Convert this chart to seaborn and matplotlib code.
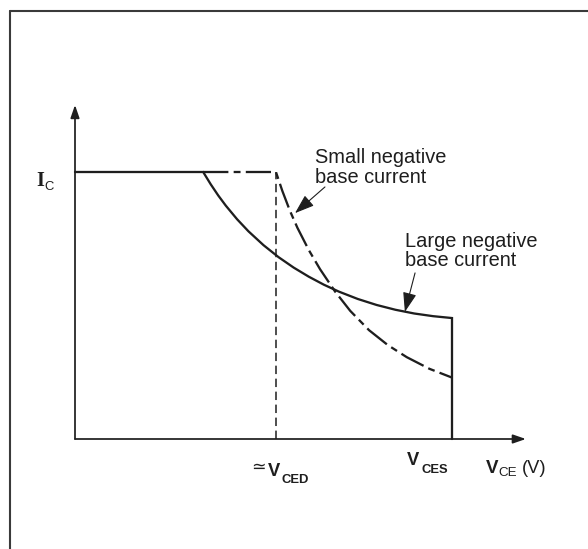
import matplotlib
matplotlib.use("Agg")
import matplotlib.pyplot as plt
import seaborn as sns
from matplotlib.lines import Line2D

sns.set_theme(style="white")
plt.rcParams["font.family"] = ["Liberation Sans", "DejaVu Sans"]

INK = "#1e1e1e"

# V_CE normalised to V_CES, I_C normalised to the current plateau
v_ced = 0.533
v_ces = 1.0
i_max = 1.0
v_axis_end = 1.196
i_axis_end = 1.251

# Safe operating boundary with a large negative base current
large_v = [0.0, 0.34, 0.36, 0.38, 0.40, 0.43, 0.46, 0.50, 0.54, 0.58, 0.62, 0.66, 0.70,
           0.75, 0.80, 0.85, 0.90, 0.95, 1.0, 1.0]
large_i = [1.0, 1.0, 0.954, 0.912, 0.874, 0.823, 0.778, 0.726, 0.681, 0.642, 0.608, 0.578, 0.552,
           0.5245, 0.502, 0.484, 0.470, 0.460, 0.453, 0.0]

# Safe operating boundary with a small negative base current
small_v = [0.34, 0.533, 0.55, 0.57, 0.59, 0.62, 0.65, 0.69, 0.73, 0.78, 0.83, 0.88, 0.94, 1.0]
small_i = [1.0, 1.0, 0.929, 0.855, 0.791, 0.708, 0.636, 0.552, 0.480, 0.4075, 0.3515, 0.3065,
           0.263, 0.230]

small_label = ["Small negative", "base current"]
large_label = ["Large negative", "base current"]

fig = plt.figure(figsize=(5.88, 5.49), dpi=100)
ax = fig.add_axes([0, 0, 1, 1])
ax.set_xlim(-75 / 377, 513 / 377)
ax.set_ylim(-110 / 267, 439 / 267)
ax.axis("off")

# page frame (left and top edges)
fig.add_artist(Line2D([9.5 / 588, 9.5 / 588], [0, 1 - 10.5 / 549], color="#3a3a3a", lw=1.5))
fig.add_artist(Line2D([9.5 / 588, 1], [1 - 10.5 / 549, 1 - 10.5 / 549], color="#3a3a3a", lw=1.5))

# axes with arrow heads
axis_arrow = dict(arrowstyle="-|>,head_length=1.1,head_width=0.38", lw=1.25, color=INK,
                  shrinkA=0, shrinkB=0, mutation_scale=7)
ax.annotate("", xy=(0, i_axis_end), xytext=(0, 0), arrowprops=axis_arrow)
ax.annotate("", xy=(v_axis_end, 0), xytext=(0, 0), arrowprops=axis_arrow)

# V_CED marker
ax.plot([v_ced, v_ced], [0, i_max], color=INK, lw=1.1, linestyle=(0, (5.5, 3)))

# boundaries
sns.lineplot(x=small_v, y=small_i, sort=False, estimator=None, ax=ax, color=INK,
             lw=1.65, linestyle=(0, (11, 2.3, 3, 2.3)))
sns.lineplot(x=large_v, y=large_i, sort=False, estimator=None, ax=ax, color=INK,
             lw=1.65, solid_joinstyle="miter")

# curve call-outs
pointer = dict(arrowstyle="-|>,head_length=1.2,head_width=0.42", lw=0.8, color=INK,
               shrinkA=0, shrinkB=0, mutation_scale=10)
ax.annotate("", xy=(0.5836, 0.846), xytext=(0.663, 0.944), arrowprops=pointer)
ax.annotate("", xy=(0.875, 0.476), xytext=(0.902, 0.622), arrowprops=pointer)

def px_text(anchor, dx, dy, s, size, **kw):
    ax.annotate(s, xy=anchor, xycoords="data", xytext=(dx, -dy), textcoords="offset pixels",
                ha="left", va="baseline", fontsize=size, color=INK, **kw)

for k, line in enumerate(small_label):
    px_text((v_ced, i_max), 39, -9 + 20 * k, line, 14.4)
for k, line in enumerate(large_label):
    px_text((v_ces, i_max), -47, 75 + 19 * k, line, 14.4)

# axis labels
px_text((0, i_max), -39, 14, "I", 14.5, family="Liberation Serif", fontweight="bold")
px_text((0, i_max), -31, 18, "C", 9.4)

px_text((v_ces, 0), -45, 26, "V", 13.2, fontweight="bold")
px_text((v_ces, 0), -31, 34, "CES", 9.4, fontweight="bold")

px_text((v_axis_end, 0), -40, 34, "V", 13.5, fontweight="bold")
px_text((v_axis_end, 0), -28, 37, "CE", 9.6)
px_text((v_axis_end, 0), -4, 34, "(V)", 13.2)

px_text((v_ced, 0), -25, 33, "\u2243", 12.5, family=["DejaVu Sans"])
px_text((v_ced, 0), -8, 37, "V", 13.2, fontweight="bold")
px_text((v_ced, 0), 6, 44, "CED", 9.4, fontweight="bold")

fig.savefig("out.png", dpi=100)
